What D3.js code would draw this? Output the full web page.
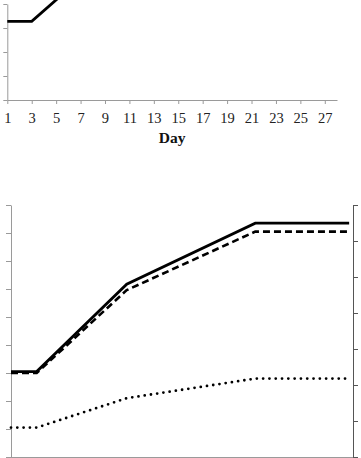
<!DOCTYPE html>
<html>
<head>
<meta charset="utf-8">
<script src="https://cdn.jsdelivr.net/npm/d3@7"></script>
<style>
  body { margin: 0; background: #fff; }
  svg { display: block; }
  .axis path, .axis line { stroke: #9a9a9a; }
  .axis.right path, .axis.right line { stroke: #555; }
  .axis text { font-family: "Liberation Serif", serif; font-size: 14.5px; fill: #222; }
</style>
</head>
<body>
<div id="chart"></div>
<script>
// top panel (only its lower part is visible)
const topDays = [1, 3, 10, 20, 28];
const topValues = [3.28, 3.28, 6.4, 8.5, 8.5];

// bottom panel, three series
const bottomDays = [1, 3, 10, 20, 27.3];
const solidValues = [3.05, 3.05, 6.17, 8.35, 8.35];
const dashedValues = [3.0, 3.0, 5.96, 8.05, 8.05];
const dottedValues = [1.05, 1.05, 2.1, 2.8, 2.8];

// tick labels / tick values
const dayTicks = [1, 3, 5, 7, 9, 11, 13, 15, 17, 19, 21, 23, 25, 27];
const topLeftTicks = [0, 1, 2, 3, 4];
const leftTicks = [0, 1, 2, 3, 4, 5, 6, 7, 8, 9];
const rightTicks = [0, 1, 2, 3, 4, 5, 6, 7];

let svg = d3.select("#chart").append("svg")
    .attr("width", 361)
    .attr("height", 458);

let styles = {
    solid: {width: 2.8, dash: null, cap: "butt"},
    dashed: {width: 2.6, dash: "7,4", cap: "butt"},
    dotted: {width: 2.8, dash: "0,6.3", cap: "round"}
};

function drawLine(g, x, y, days, values, style) {
    let line = d3.line()
        .x((d, i) => x(days[i]))
        .y(d => y(d));
    g.append("path")
        .datum(values)
        .attr("fill", "none")
        .attr("stroke", "#000")
        .attr("stroke-width", styles[style].width)
        .attr("stroke-dasharray", styles[style].dash)
        .attr("stroke-linecap", styles[style].cap)
        .attr("stroke-linejoin", "miter")
        .attr("d", line);
}

/* ---------- top panel ---------- */
let topPanel = svg.append("g").attr("class", "top-panel");

let xTop = d3.scaleLinear().domain([1, 28]).range([7.3, 337]);
let yTop = d3.scaleLinear().domain([0, 4]).range([100, 4]);

topPanel.append("g")
    .attr("class", "axis")
    .attr("transform", "translate(" + xTop(1) + ",0)")
    .call(d3.axisLeft(yTop).tickValues(topLeftTicks).tickSize(4).tickSizeOuter(0).tickFormat(""));

topPanel.append("g")
    .attr("class", "axis")
    .attr("transform", "translate(0," + yTop(0) + ")")
    .call(d3.axisBottom(xTop).tickValues(dayTicks).tickSize(4).tickSizeOuter(0).tickPadding(9).tickFormat(d3.format("d")));

topPanel.append("text")
    .attr("x", (xTop.range()[0] + xTop.range()[1]) / 2)
    .attr("y", 143)
    .attr("text-anchor", "middle")
    .attr("font-family", "Liberation Serif, serif")
    .attr("font-weight", "bold")
    .attr("font-size", "15.5px")
    .attr("fill", "#111")
    .text("Day");

drawLine(topPanel, xTop, yTop, topDays, topValues, "solid");

/* ---------- bottom panel ---------- */
let bottomPanel = svg.append("g").attr("class", "bottom-panel");

let xBot = d3.scaleLinear().domain([1, 27.6]).range([11, 353]);
let yLeft = d3.scaleLinear().domain([0, 9]).range([457, 205]);
let yRight = d3.scaleLinear().domain([0, 7]).range([457, 205]);

bottomPanel.append("g")
    .attr("class", "axis")
    .attr("transform", "translate(0," + yLeft(0) + ")")
    .call(d3.axisBottom(xBot).tickValues(dayTicks).tickSize(4).tickSizeOuter(0).tickFormat(""));

bottomPanel.append("g")
    .attr("class", "axis")
    .attr("transform", "translate(" + xBot.range()[0] + ",0)")
    .call(d3.axisLeft(yLeft).tickValues(leftTicks).tickSize(5).tickSizeOuter(0).tickFormat(""));

bottomPanel.append("g")
    .attr("class", "axis right")
    .attr("transform", "translate(" + xBot.range()[1] + ",0)")
    .call(d3.axisRight(yRight).tickValues(rightTicks).tickSize(5).tickSizeOuter(0).tickFormat(""));

drawLine(bottomPanel, xBot, yLeft, bottomDays, dottedValues, "dotted");
drawLine(bottomPanel, xBot, yLeft, bottomDays, dashedValues, "dashed");
drawLine(bottomPanel, xBot, yLeft, bottomDays, solidValues, "solid");
</script>
</body>
</html>
